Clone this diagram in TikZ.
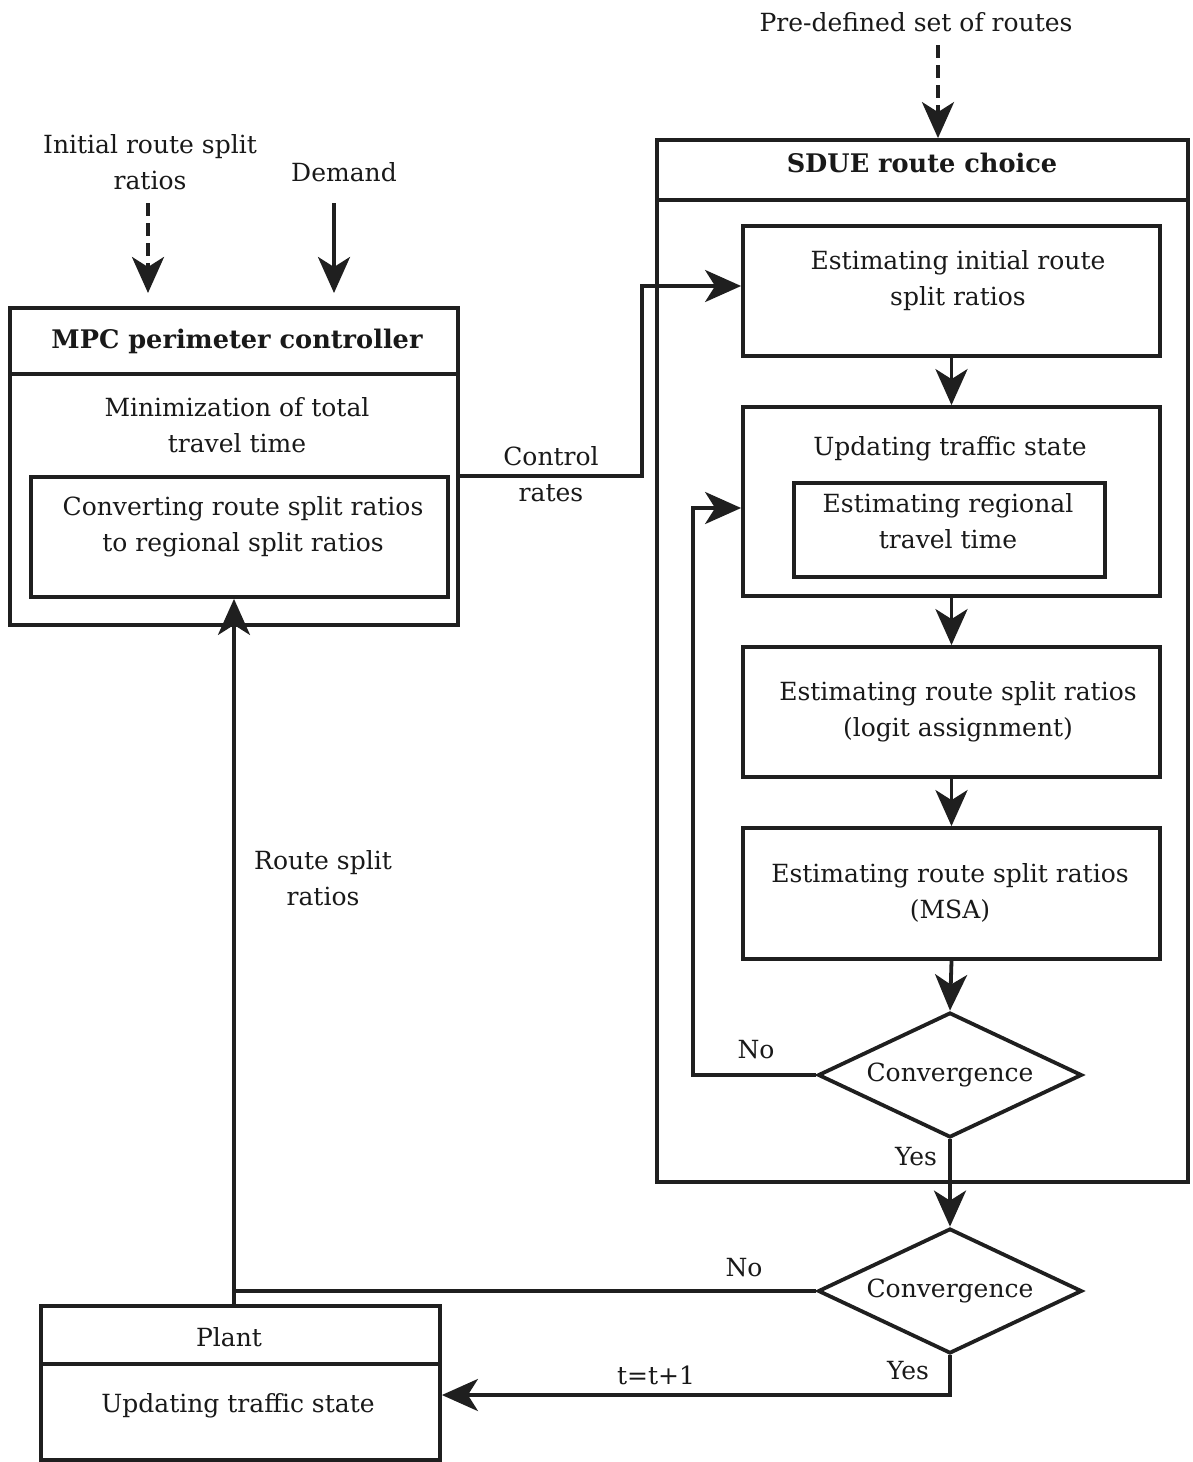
\documentclass[tikz,border=0pt]{standalone}
\usepackage{fontspec}
\setmainfont{DejaVu Serif}
\usetikzlibrary{arrows.meta,shapes.geometric}
\begin{document}
\begin{tikzpicture}[x=1pt,y=-1pt,
  every node/.style={font=\fontsize{25}{36}\selectfont, align=center, inner sep=0pt, text=black!90},
  boxnode/.style={draw=black!88, line width=3.8pt, rectangle, inner sep=0pt},
  dia/.style={draw=black!88, line width=3.8pt, diamond, shape aspect=2.11, minimum width=264pt, minimum height=125pt, inner sep=0pt},
  conn/.style={draw=black!88, line width=3.8pt, line join=miter},
  arr/.style={conn, -{Stealth[length=36pt,width=32pt,inset=10pt]}},
  dsh/.style={dash pattern=on 13pt off 7pt},
  lbl/.style={font=\fontsize{25}{36}\selectfont},
  ttl/.style={font=\fontsize{25.6}{36}\selectfont\bfseries}
]
\useasboundingbox (0,0) rectangle (1193,1462);
\fill[white] (0,0) rectangle (1193,1462);

% ---------- MPC block ----------
\node[boxnode, minimum width=448pt, minimum height=317pt] (mpc) at (234,466.5) {};
\draw[conn] (mpc.west |- 0,374) -- (mpc.east |- 0,374);
\node[ttl] (mpct) at (237,341) {MPC perimeter controller};
\node[lbl] (mpcm) at (237,425) {Minimization of total\\travel time};
\node[boxnode, minimum width=417pt, minimum height=120pt] (conv) at (239.5,537) {};
\node[lbl] (convt) at (243,527) {Converting route split ratios\\to regional split ratios};

% inputs
\node[lbl] (irs) at (150,162) {Initial route split\\ratios};
\node[lbl] (dem) at (344,172) {Demand};
\coordinate (irsa) at (148,203);
\coordinate (dema) at (334,203);
\draw[arr, dsh] (irsa) -- (148,293);
\draw[arr] (dema) -- (334,293);

% ---------- SDUE block ----------
\node[lbl] (pds) at (916,22) {Pre-defined set of routes};
\node[boxnode, minimum width=531pt, minimum height=1042pt] (sdue) at (922.5,661) {};
\draw[conn] (sdue.west |- 0,200) -- (sdue.east |- 0,200);
\node[ttl] (sduet) at (922,163) {SDUE route choice};
\coordinate (pda) at (938,45);
\draw[arr, dsh] (pda) -- (pda |- sdue.north);

\node[boxnode, minimum width=417pt, minimum height=130pt] (A) at (951.5,291) {};
\node[lbl] (At) at (958,281) {Estimating initial route\\split ratios};

\node[boxnode, minimum width=417pt, minimum height=189pt] (B) at (951.5,501.5) {};
\node[lbl] (Bt) at (950,449) {Updating traffic state};
\node[boxnode, minimum width=311pt, minimum height=94pt] (Bi) at (949.5,530) {};
\node[lbl] (Bit) at (948,521) {Estimating regional\\travel time};

\node[boxnode, minimum width=417pt, minimum height=130pt] (C) at (951.5,712) {};
\node[lbl] (Ct) at (958,712) {Estimating route split ratios\\(logit assignment)};

\node[boxnode, minimum width=417pt, minimum height=131pt] (D) at (951.5,893.5) {};
\node[lbl] (Dt) at (950,893) {Estimating route split ratios\\(MSA)};

\node[dia] (d1) at (950,1075) {Convergence};
\node[dia] (d2) at (950,1291) {Convergence};

\draw[arr] (A.south) -- (B.north);
\draw[arr] (B.south) -- (C.north);
\draw[arr] (C.south) -- (D.north);
\draw[arr] (D.south) -- (d1.north);
\draw[arr] (d1.south) -- (d2.north);

% No loop (inner)
\draw[arr] (d1.west) -- (693,1075) -- (693,508) -- (B.west |- 0,508);
\node[lbl] (no1) at (756,1050) {No};
\node[lbl] (yes1) at (916,1157) {Yes};

% Control rates
\draw[arr] (mpc.east |- 0,476) -- (642,476) -- (642,286) -- (A.west |- 0,286);
\node[lbl] (cr) at (551,474) {Control\\rates};

% ---------- Plant ----------
\node[boxnode, minimum width=399pt, minimum height=154pt] (plant) at (240.5,1383) {};
\draw[conn] (plant.west |- 0,1364) -- (plant.east |- 0,1364);
\node[lbl] (plantt) at (229,1337) {Plant};
\node[lbl] (plantu) at (238,1406) {Updating traffic state};

% outer No loop and route split ratios feedback
\draw[conn] (d2.west) -- (234,1291);
\draw[arr] (plant.north -| 234,0) -- (conv.south -| 234,0);
\node[lbl] (rsr) at (323,878) {Route split\\ratios};
\node[lbl] (no2) at (744,1268) {No};

% Yes -> plant
\draw[arr] (d2.south) -- (950,1395) -- (plant.east |- 0,1395);
\node[lbl] (yes2) at (908,1371) {Yes};
\node[lbl] (tt) at (656,1375) {t=t+1};
\end{tikzpicture}
\end{document}
